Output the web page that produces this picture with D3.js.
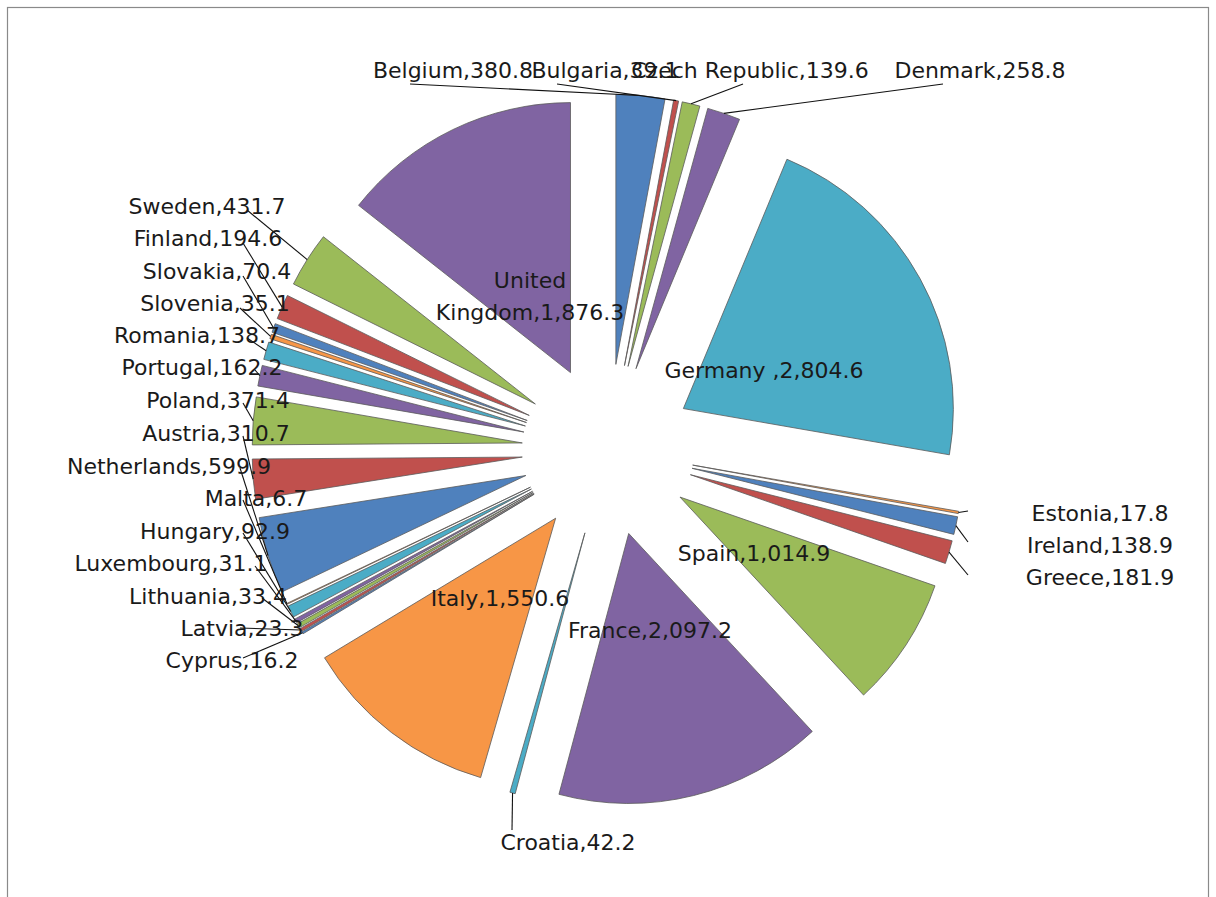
<!DOCTYPE html>
<html><head><meta charset="utf-8">
<script src="https://cdn.jsdelivr.net/npm/d3@7/dist/d3.min.js"></script>
<style>body{margin:0;background:#fff}svg{display:block}</style>
</head><body>
<svg id="chart" width="1216" height="897"></svg>
<script>
const countries = ["Belgium","Bulgaria","Czech Republic","Denmark","Germany ","Estonia","Ireland","Greece","Spain","France","Croatia","Italy","Cyprus","Latvia","Lithuania","Luxembourg","Hungary","Malta","Netherlands","Austria","Poland","Portugal","Romania","Slovenia","Slovakia","Finland","Sweden","United Kingdom"];
const gdpValues = [380.8,39.1,139.6,258.8,2804.6,17.8,138.9,181.9,1014.9,2097.2,42.2,1550.6,16.2,23.3,33.4,31.1,92.9,6.7,599.9,310.7,371.4,162.2,138.7,35.1,70.4,194.6,431.7,1876.3];
const palette = ["#4F81BD","#C0504D","#9BBB59","#8064A2","#4BACC6","#F79646"];

// label layout: [centerX, centerY, leaderStartX, leaderStartY]
const labelLayout = {
  "Belgium":[453,70,410,84], "Bulgaria":[605,70,557,84], "Czech Republic":[750,70,743,84], "Denmark":[980,70,943,84],
  "Germany ":[764,370], "Estonia":[1100,513,968,511], "Ireland":[1100,545,968,542], "Greece":[1100,577,968,575],
  "Spain":[754,553], "France":[650,630], "Croatia":[568,842,512,830], "Italy":[500,598],
  "Cyprus":[232,660,243,658], "Latvia":[242,628,240,628], "Lithuania":[208,596,262,598], "Luxembourg":[171,563,255,566],
  "Hungary":[215,531,243,533], "Malta":[256,498,243,500], "Netherlands":[169,466,240,468], "Austria":[216,433,243,436],
  "Poland":[218,400,243,403], "Portugal":[202,367,255,370], "Romania":[197,335,247,338], "Slovenia":[215,303,240,308],
  "Slovakia":[217,271,243,276], "Finland":[208,238,243,243], "Sweden":[207,206,247,210],
  "United Kingdom":[530,296]
};

const W = 1216, H = 897, CX = 608, CY = 450, R = 270, EXPLODE = 86;
const svg = d3.select("#chart");
svg.append("rect").attr("x",7.5).attr("y",7.5).attr("width",1201).attr("height",910)
  .attr("fill","#fff").attr("stroke","#8a8a8a").attr("stroke-width",1.2);

const data = countries.map((c,i)=>({name:c, value:gdpValues[i], color:palette[i%palette.length]}));
const pie = d3.pie().sort(null).value(d=>d.value);
const arcs = pie(data);
const arc = d3.arc().innerRadius(0).outerRadius(R);
const g = svg.append("g").attr("transform",`translate(${CX},${CY})`);
const mid = d=>(d.startAngle+d.endAngle)/2;

g.selectAll("path.slice").data(arcs).join("path").attr("class","slice")
  .attr("transform",d=>`translate(${EXPLODE*Math.sin(mid(d))},${-EXPLODE*Math.cos(mid(d))})`)
  .attr("d",arc).attr("fill",d=>d.data.color)
  .attr("stroke","#5a5a5a").attr("stroke-width",0.8).attr("stroke-linejoin","round");

const fmt = d3.format(",.1f");
const lab = svg.append("g").attr("font-family","'DejaVu Sans', sans-serif").attr("font-size",22).attr("fill","#1a1a1a");

// leader lines
arcs.forEach(d=>{
  const L = labelLayout[d.data.name];
  if(!L || L.length<4) return;
  const a = mid(d), rr = R+EXPLODE;
  lab.append("line").attr("x1",L[2]).attr("y1",L[3])
    .attr("x2",CX+rr*Math.sin(a)).attr("y2",CY-rr*Math.cos(a))
    .attr("stroke","#111").attr("stroke-width",1.1);
});

arcs.forEach(d=>{
  const L = labelLayout[d.data.name];
  const txt = `${d.data.name},${fmt(d.data.value)}`;
  if(d.data.name==="United Kingdom"){
    const t = lab.append("text").attr("text-anchor","middle");
    t.append("tspan").attr("x",L[0]).attr("y",L[1]-16).attr("dy","0.35em").text("United");
    t.append("tspan").attr("x",L[0]).attr("y",L[1]+16).attr("dy","0.35em").text(`Kingdom,${fmt(d.data.value)}`);
  } else {
    lab.append("text").attr("x",L[0]).attr("y",L[1]).attr("dy","0.35em").attr("text-anchor","middle").text(txt);
  }
});
</script>
</body></html>
